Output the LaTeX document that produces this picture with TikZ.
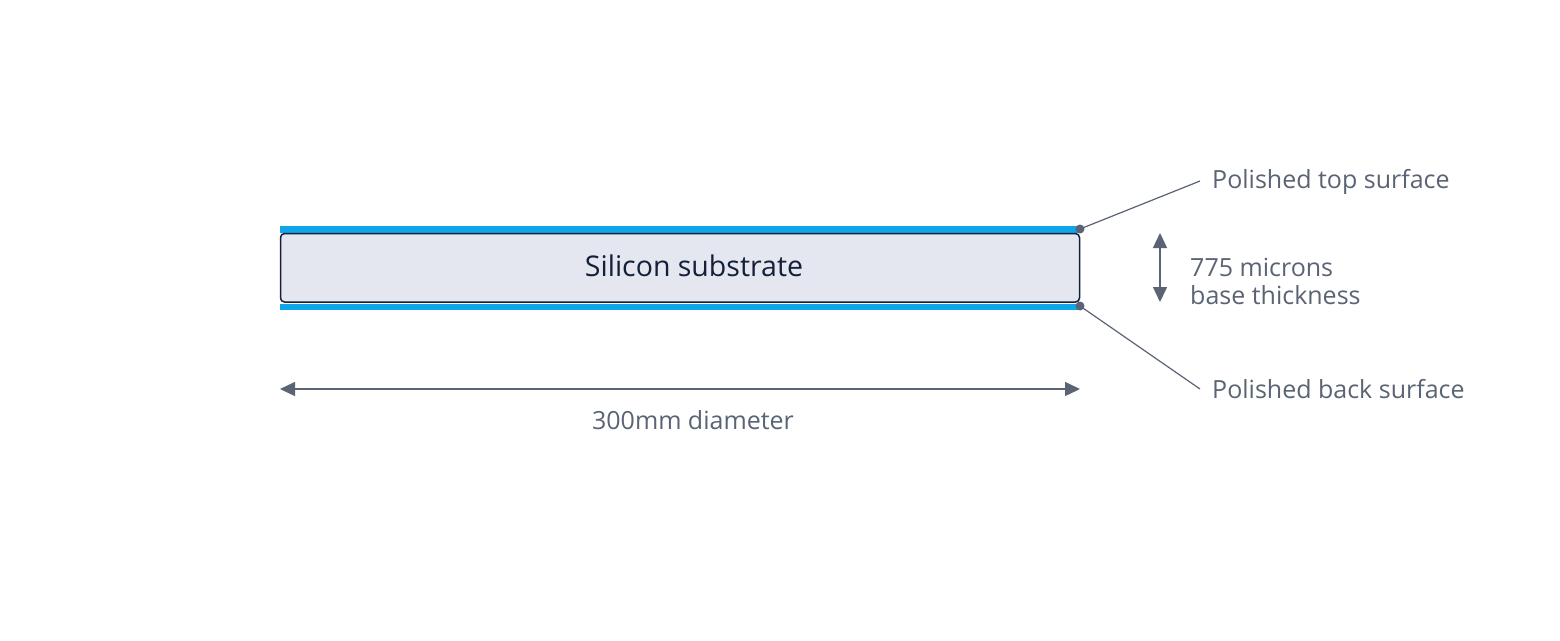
\documentclass[tikz,border=0pt]{standalone}
\usepackage{fontspec}
\setmainfont{Open Sans}
\usetikzlibrary{arrows.meta}
\definecolor{txtgray}{HTML}{5A6474}
\definecolor{waferblue}{HTML}{10A5E8}
\definecolor{subfill}{HTML}{E4E7EF}
\definecolor{navy}{HTML}{14203A}
\tikzset{
  lbl/.style={text=txtgray, font=\fontsize{25}{28}\selectfont, inner sep=0pt},
  leader/.style={draw=txtgray, line width=1.2pt},
  dimarrow/.style={draw=txtgray, line width=1.4pt, {Triangle[length=15pt,width=14pt]}-{Triangle[length=15pt,width=14pt]}},
  dotmark/.style={circle, fill=txtgray, inner sep=0pt, minimum size=9pt}
}
\begin{document}
\begin{tikzpicture}[x=1pt,y=-1pt]
\useasboundingbox[fill=white] (0,0) rectangle (1560,640);
% blue surfaces
\fill[waferblue] (280,226) rectangle (1080,232.5);
\fill[waferblue] (280,303.5) rectangle (1080,309.5);
% substrate
\draw[navy, fill=subfill, line width=1.5pt, rounded corners=4pt] (280.5,233.5) rectangle (1079.5,302);
\node[text=navy, font=\fontsize{28.5}{32}\selectfont, inner sep=0pt] (sub) at (694,266) {Silicon substrate};
% dots
\node[dotmark] (tdot) at (1080,229) {};
\node[dotmark] (bdot) at (1080,306) {};
\coordinate (tend) at (1200,181);
\coordinate (bend) at (1200,389);
\draw[leader] (tdot.center) -- (tend);
\draw[leader] (bdot.center) -- (bend);
\node[lbl, anchor=west] (tlab) at (1212,181.5) {Polished top surface};
\node[lbl, anchor=west] (blab) at (1212,389.5) {Polished back surface};
% thickness
\coordinate (ttop) at (1160,233);
\coordinate (tbot) at (1160,302);
\draw[dimarrow] (ttop) -- (tbot);
\node[lbl, anchor=west, align=left] (thick) at (1190,281.5) {775 microns\\base thickness};
% diameter
\coordinate (dl) at (280,389);
\coordinate (dr) at (1080,389);
\draw[dimarrow] (dl) -- (dr);
\node[lbl] (dlab) at (693,420.5) {300mm diameter};
\end{tikzpicture}
\end{document}
